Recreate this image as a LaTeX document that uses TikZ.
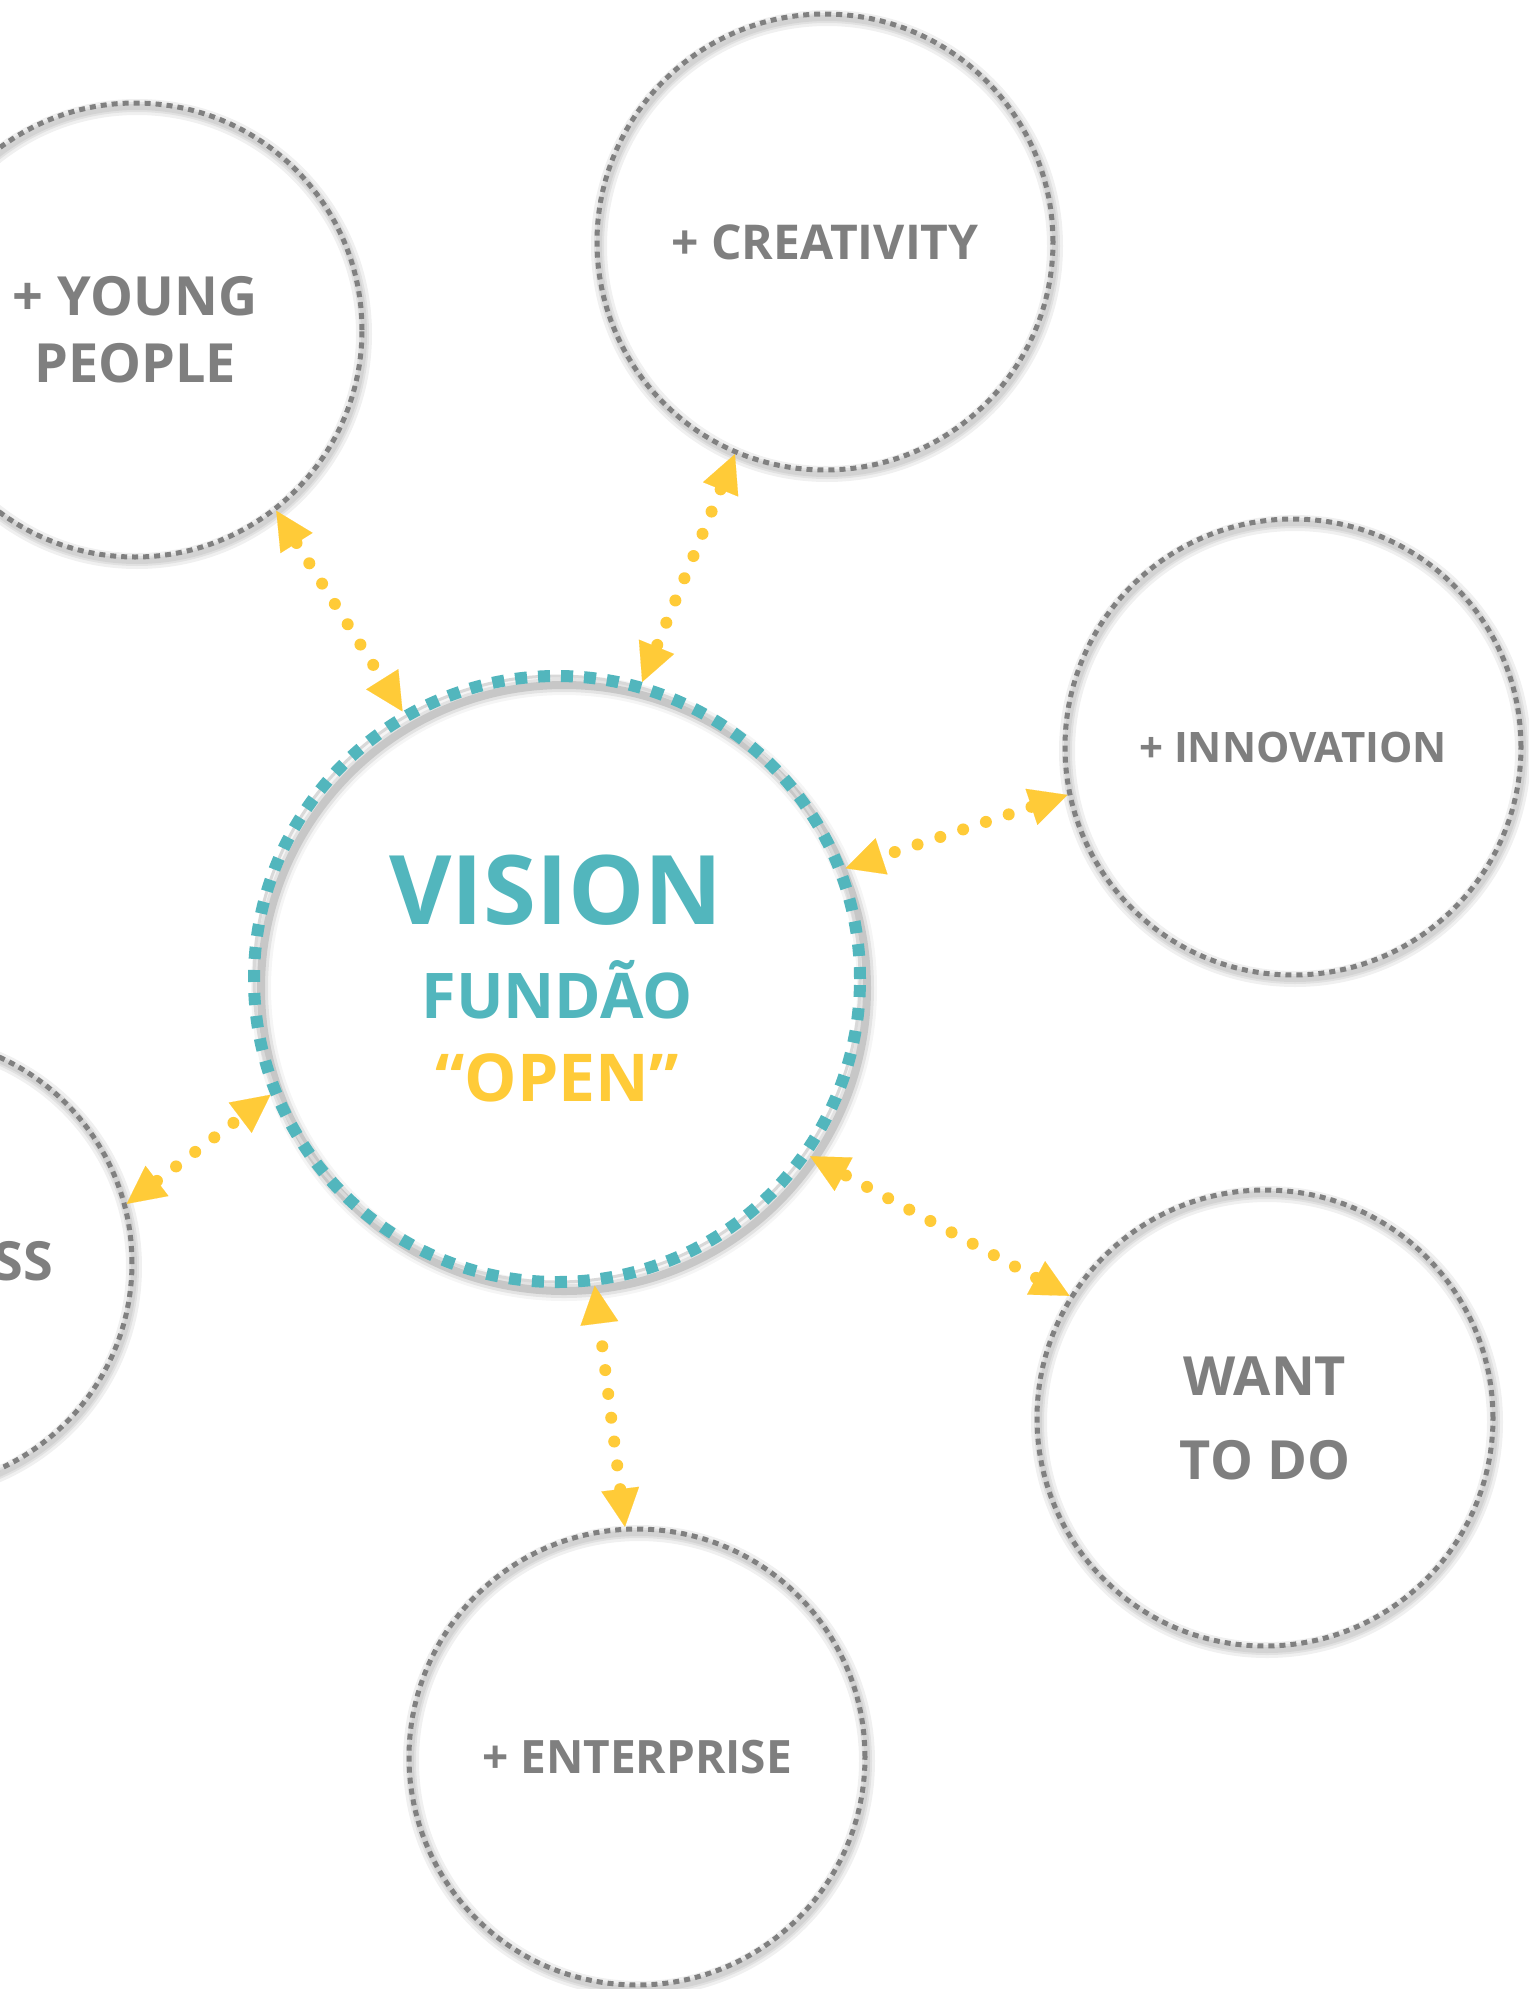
\documentclass[tikz,border=0pt]{standalone}
\usepackage{fontspec}
\setmainfont{Open Sans}
\usetikzlibrary{arrows.meta}
\definecolor{tealc}{RGB}{82,182,189}
\definecolor{goldc}{RGB}{255,203,56}
\definecolor{grayc}{RGB}{128,128,128}
\definecolor{txtgray}{RGB}{127,127,127}
\begin{document}
\begin{tikzpicture}[x=1pt,y=-1pt,
  bubble/.style={circle, draw=grayc, line width=5pt, dash pattern=on 6pt off 5pt,
    minimum size=#1, inner sep=0pt, text=txtgray, align=center},
  hub/.style={circle, draw=tealc, line width=12pt, dash pattern=on 12pt off 11pt,
    minimum size=#1, inner sep=0pt},
  gshadow/.style={draw=black, line width=#1, opacity=0.06},
  arr/.style={draw=goldc, line width=12pt, line cap=round, dash pattern=on 0pt off 24pt,
    {Triangle[length=38pt,width=38pt,line width=0.1pt]}-{Triangle[length=38pt,width=38pt,line width=0.1pt]}},
  lbl/.style={anchor=base, inner sep=0pt}
]
\useasboundingbox (0,0) rectangle (1529,1989);
\clip (0,0) rectangle (1529,1989);
\fill[white] (0,0) rectangle (1529,1989);

% soft shadows of the gray rings
\foreach \cx/\cy/\r in {135/330/227, 825/242/228, 1293/747/228, -94/1263/226, 1265/1418/228, 637/1757/228}{
  \draw[gshadow=16pt] (\cx+2,\cy+4) circle[radius=\r];
  \draw[gshadow=10pt] (\cx+2,\cy+4) circle[radius=\r];
  \draw[gshadow=6pt] (\cx+2,\cy+4) circle[radius=\r];
}
% shadow of the central ring
\draw[draw=black, line width=20pt, opacity=0.04] (564,988) circle[radius=303];
\draw[draw=black, line width=14pt, opacity=0.07] (564,988) circle[radius=303];
\draw[draw=black, line width=8pt, opacity=0.12] (564,988) circle[radius=303];
\draw[draw=black!15, line width=3pt] (557,979) circle[radius=303];

% bubbles
\node[bubble=454pt, font=\bfseries\fontsize{54}{67}\selectfont] (young) at (135,330) {+ YOUNG\\PEOPLE};
\node[bubble=456pt, font=\bfseries\fontsize{48}{58}\selectfont] (creat) at (825,242) {+ CREATIVITY};
\node[bubble=456pt, font=\bfseries\fontsize{42}{50}\selectfont] (innov) at (1293,747) {+ INNOVATION};
\node[bubble=452pt] (ss) at (-94,1263) {};
\node[bubble=456pt, font=\bfseries\fontsize{54}{84}\selectfont] (want) at (1265,1418) {WANT\\TO DO};
\node[bubble=456pt, font=\bfseries\fontsize{46}{55}\selectfont] (enter) at (637,1757) {+ ENTERPRISE};
\node[anchor=base east, inner sep=0pt, text=txtgray, font=\bfseries\fontsize{54}{67}\selectfont] (sstext) at (53,1280) {SS};

% central hub
\node[hub=606pt] (vision) at (557,979) {};
\node[lbl, text=tealc, font=\bfseries\fontsize{96}{110}\selectfont] (t1) at (556,924) {VISION};
\node[lbl, text=tealc, font=\bfseries\fontsize{63}{75}\selectfont] (t2) at (557,1018) {FUNDÃO};
\node[lbl, text=goldc, font=\bfseries\fontsize{66}{78}\selectfont] (t3) at (557,1101) {“OPEN”};

% connectors
\draw[arr] (young.-52.8) -- (vision.120.4);
\draw[arr] (creat.-113.2) -- (vision.74.2);
\draw[arr] (innov.-168) -- (vision.21.9);
\draw[arr] (ss.15.9) -- (vision.-158);
\draw[arr] (want.148.2) -- (vision.-35.7);
\draw[arr] (enter.93.9) -- (vision.-83);
\end{tikzpicture}
\end{document}
